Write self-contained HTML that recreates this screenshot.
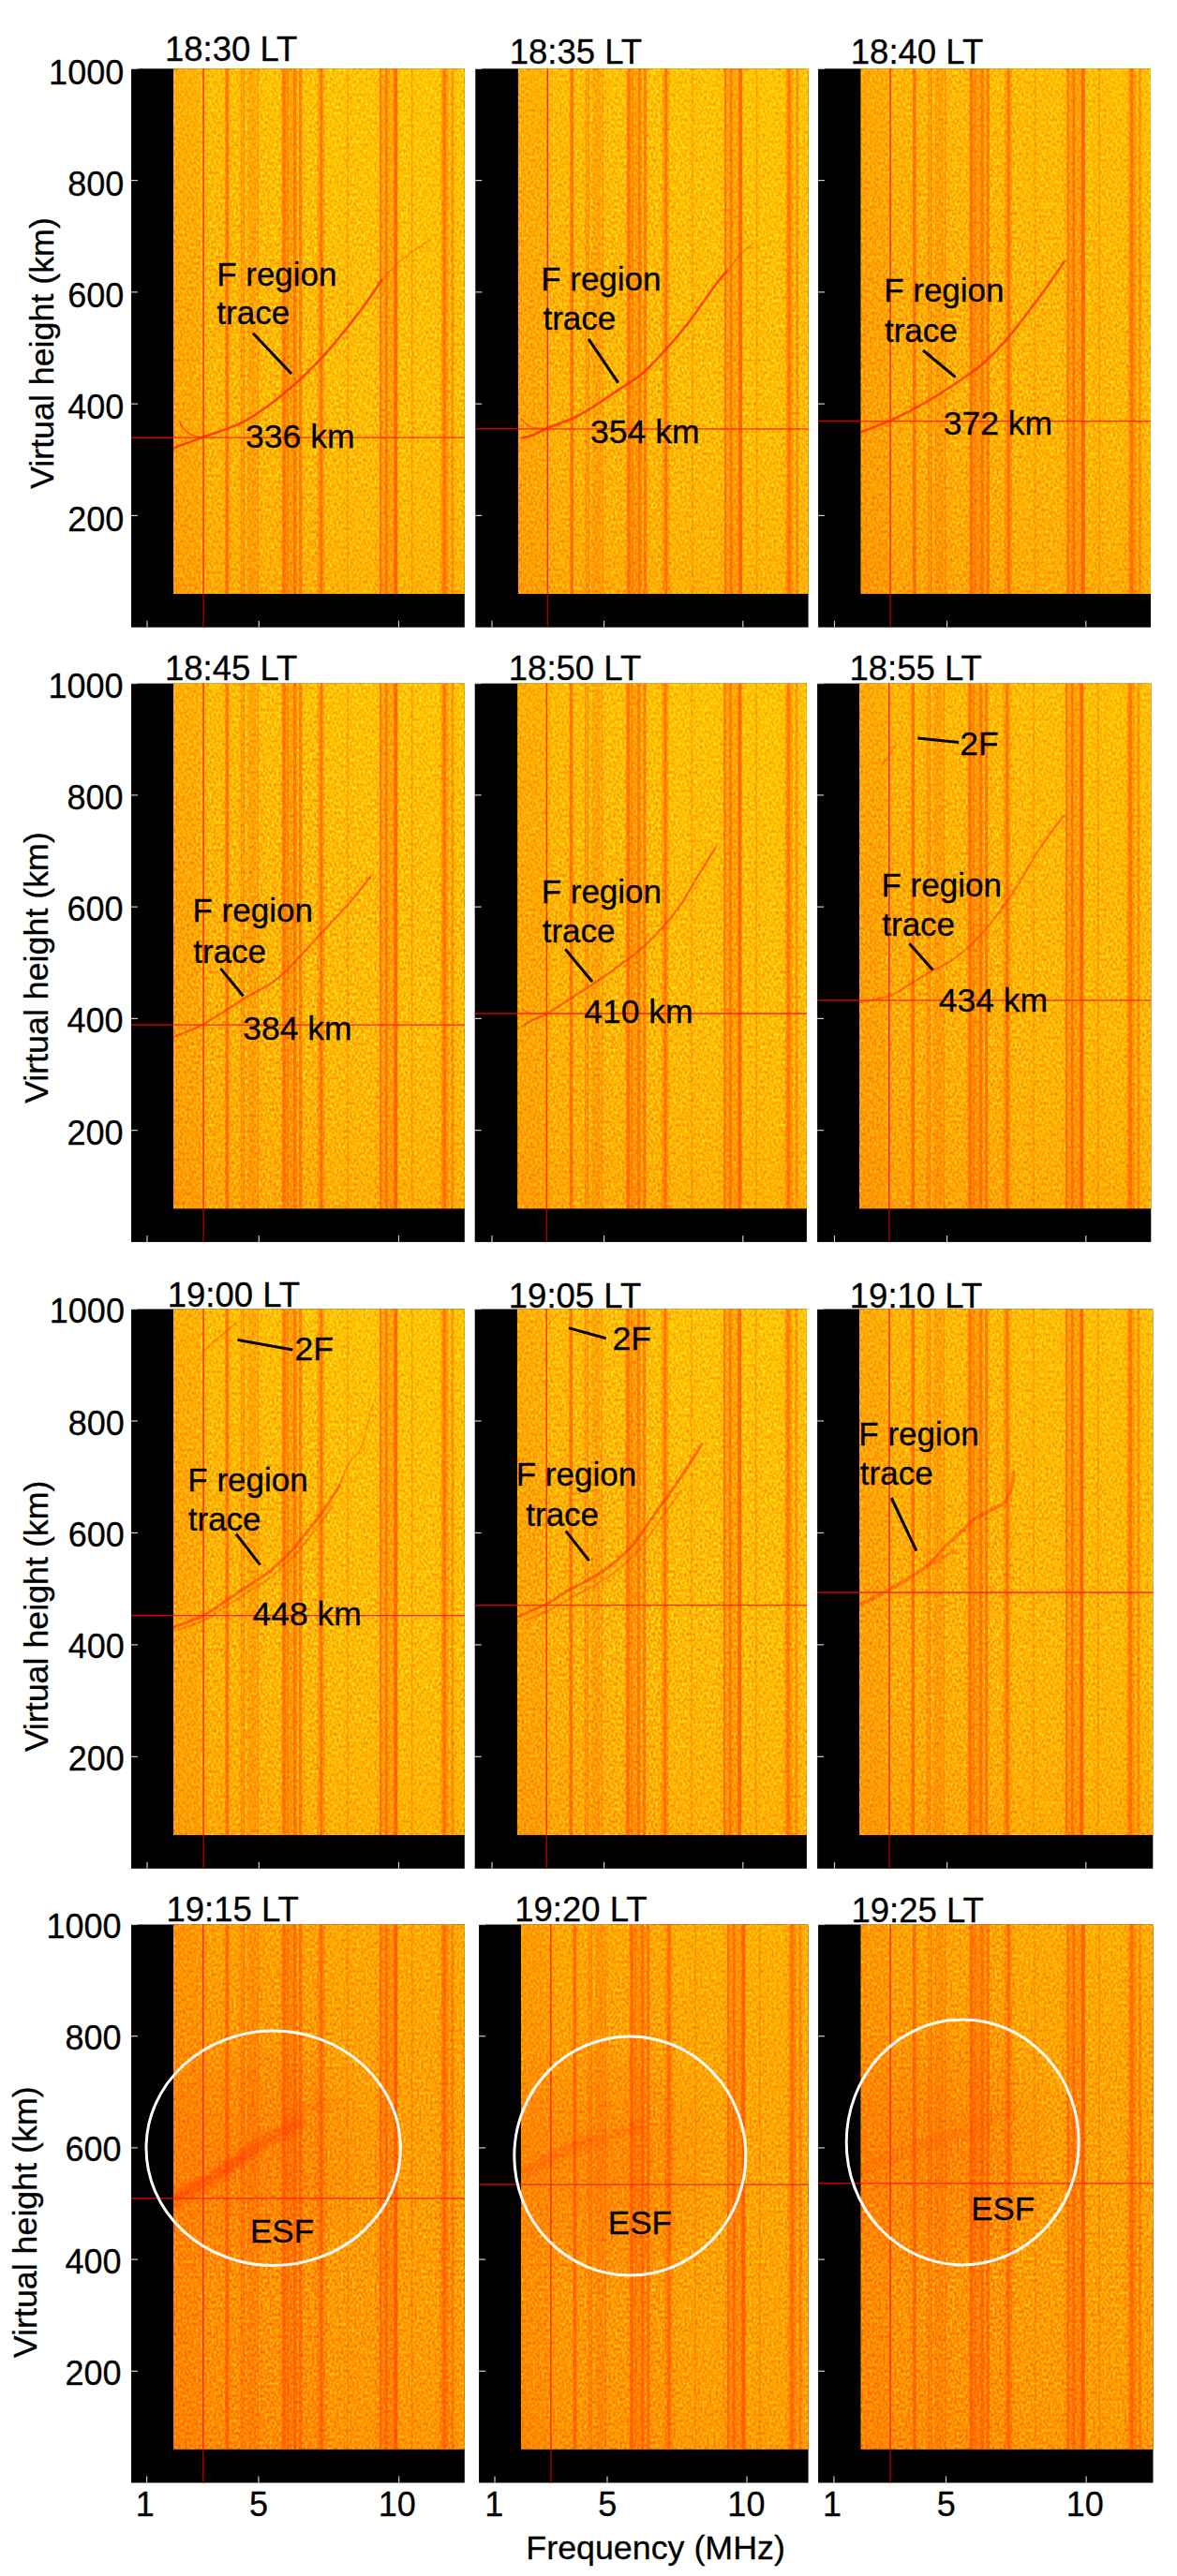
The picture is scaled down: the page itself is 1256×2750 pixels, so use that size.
<!DOCTYPE html><html><head><meta charset="utf-8"><style>html,body{margin:0;padding:0;background:#fff;}svg{display:block;}text{font-family:'Liberation Sans',sans-serif;fill:#000;stroke:#000;stroke-width:0.3px;}</style></head><body>
<svg width="1256" height="2750" viewBox="0 0 1256 2750">
<defs>
<filter id="nz" x="0" y="0" width="1" height="1" color-interpolation-filters="sRGB">
<feTurbulence type="fractalNoise" baseFrequency="0.42 0.3" numOctaves="1" seed="7"/>
<feColorMatrix type="matrix" values="0 0 0 0 1  0.9 0 0 0 0.27  0 0 0 0 0.03  0 0 0 0 1"/>
</filter>
<filter id="nz4" x="0" y="0" width="1" height="1" color-interpolation-filters="sRGB">
<feTurbulence type="fractalNoise" baseFrequency="0.42 0.3" numOctaves="1" seed="11"/>
<feColorMatrix type="matrix" values="0 0 0 0 1  0.9 0 0 0 0.13  0 0 0 0 0.02  0 0 0 0 1"/>
</filter>
<linearGradient id="lr" x1="0" y1="0" x2="1" y2="0">
<stop offset="0" stop-color="#ff7000" stop-opacity="0.16"/><stop offset="0.45" stop-color="#ff9000" stop-opacity="0.0"/>
<stop offset="0.75" stop-color="#ffd000" stop-opacity="0.06"/><stop offset="1" stop-color="#ffd000" stop-opacity="0.10"/></linearGradient>
<linearGradient id="tb" x1="0" y1="0" x2="0" y2="1">
<stop offset="0" stop-color="#ffe000" stop-opacity="0.22"/><stop offset="0.3" stop-color="#ffd000" stop-opacity="0.08"/>
<stop offset="0.6" stop-color="#ff9000" stop-opacity="0.0"/><stop offset="1" stop-color="#ff7000" stop-opacity="0.20"/></linearGradient>
<radialGradient id="esf" cx="0.5" cy="0.5" r="0.5"><stop offset="0" stop-color="#ff4000" stop-opacity="0.22"/><stop offset="0.7" stop-color="#ff5000" stop-opacity="0.12"/><stop offset="1" stop-color="#ff5000" stop-opacity="0"/></radialGradient>
<filter id="bl" x="-20%" y="-20%" width="140%" height="140%"><feGaussianBlur stdDeviation="2.5"/></filter>
</defs>
<rect width="100%" height="100%" fill="#fff"/>
<rect x="140" y="73.3" width="355.8" height="596.4" fill="#000"/>
<clipPath id="cp00"><rect x="185" y="73.3" width="310.8" height="560.7"/></clipPath>
<g clip-path="url(#cp00)">
<rect x="185" y="73.3" width="310.8" height="560.7" fill="#ffaa00" filter="url(#nz)"/>
<rect x="185" y="73.3" width="310.8" height="560.7" fill="url(#lr)"/>
<rect x="185" y="73.3" width="310.8" height="560.7" fill="url(#tb)"/>
<rect x="185" y="73.3" width="310.8" height="560.7" fill="#ffe000" fill-opacity="0.08"/>
<rect x="350" y="73.3" width="50" height="560.7" fill="#ffd400" fill-opacity="0.1"/>
<rect x="425" y="73.3" width="42" height="560.7" fill="#ffd400" fill-opacity="0.1"/>
<rect x="485" y="73.3" width="10.8" height="560.7" fill="#ffd400" fill-opacity="0.08"/>
<rect x="185" y="73.3" width="28" height="560.7" fill="#ff4000" fill-opacity="0.08"/>
<rect x="240.5" y="73.3" width="3.6" height="560.7" fill="#ff4000" fill-opacity="0.55"/>
<rect x="256.8" y="73.3" width="1.8" height="560.7" fill="#ff4000" fill-opacity="0.3"/>
<rect x="259.5" y="73.3" width="1.3" height="560.7" fill="#ff4000" fill-opacity="0.45"/>
<rect x="264.5" y="73.3" width="8.9" height="560.7" fill="#ff4000" fill-opacity="0.18"/>
<rect x="274.5" y="73.3" width="1.5" height="560.7" fill="#ff4000" fill-opacity="0.3"/>
<rect x="300.5" y="73.3" width="17" height="560.7" fill="#ff4000" fill-opacity="0.22"/>
<rect x="301.5" y="73.3" width="3.3" height="560.7" fill="#ff4000" fill-opacity="0.45"/>
<rect x="306" y="73.3" width="2" height="560.7" fill="#ff4000" fill-opacity="0.25"/>
<rect x="313" y="73.3" width="3" height="560.7" fill="#ff4000" fill-opacity="0.4"/>
<rect x="319" y="73.3" width="3.3" height="560.7" fill="#ff4000" fill-opacity="0.5"/>
<rect x="338.7" y="73.3" width="7.5" height="560.7" fill="#ff4000" fill-opacity="0.22"/>
<rect x="341.4" y="73.3" width="2.8" height="560.7" fill="#ff4000" fill-opacity="0.45"/>
<rect x="370" y="73.3" width="2" height="560.7" fill="#ff4000" fill-opacity="0.2"/>
<rect x="405" y="73.3" width="19" height="560.7" fill="#ff4000" fill-opacity="0.2"/>
<rect x="405" y="73.3" width="2.2" height="560.7" fill="#ff4000" fill-opacity="0.45"/>
<rect x="411" y="73.3" width="2.6" height="560.7" fill="#ff4000" fill-opacity="0.45"/>
<rect x="420.4" y="73.3" width="3.8" height="560.7" fill="#ff4000" fill-opacity="0.6"/>
<rect x="439" y="73.3" width="1.5" height="560.7" fill="#ff4000" fill-opacity="0.3"/>
<rect x="470.6" y="73.3" width="8.1" height="560.7" fill="#ff4000" fill-opacity="0.25"/>
<rect x="472.5" y="73.3" width="3.3" height="560.7" fill="#ff4000" fill-opacity="0.4"/>
<rect x="481.5" y="73.3" width="2.7" height="560.7" fill="#ff4000" fill-opacity="0.35"/>
<path d="M185.4,478.3 C190.67,476.33 204.4,471.28 217,466.5 C229.6,461.72 246.15,457.78 261,449.6 C275.85,441.42 291.95,429.13 306.1,417.4 C320.25,405.67 332.65,393.73 345.9,379.2 C359.15,364.67 375.42,343.47 385.6,330.2 C395.78,316.93 403.43,304.7 407,299.6" fill="none" stroke="#ff2800" stroke-width="2.6" stroke-opacity="0.8" stroke-linecap="round"/>
<path d="M407,299.6 C409.55,296.8 417.2,287.63 422.3,282.8 C427.4,277.97 431.48,275.07 437.6,270.6 C443.72,266.13 455.43,258.43 459,256" fill="none" stroke="#ff2800" stroke-width="1.8" stroke-opacity="0.35" stroke-linecap="round"/>
<path d="M191.4,449.6 C192.17,451 193.73,455.52 196,458 C198.27,460.48 201.5,463 205,464.5 C208.5,466 215,466.58 217,467" fill="none" stroke="#ff2800" stroke-width="1.8" stroke-opacity="0.6" stroke-linecap="round"/>
</g>
<line x1="217.1" y1="73.3" x2="217.1" y2="634" stroke="#ff2a00" stroke-width="1.5"/>
<line x1="217.1" y1="634" x2="217.1" y2="669.7" stroke="#a00000" stroke-width="1.5"/>
<line x1="140" y1="467.2" x2="185" y2="467.2" stroke="#c80000" stroke-width="1.5"/>
<line x1="185" y1="467.2" x2="495.8" y2="467.2" stroke="#ff2200" stroke-width="1.3"/>
<line x1="140" y1="73.3" x2="147" y2="73.3" stroke="#ccc" stroke-width="1.2"/>
<line x1="140" y1="192.58" x2="147" y2="192.58" stroke="#ccc" stroke-width="1.2"/>
<line x1="140" y1="311.86" x2="147" y2="311.86" stroke="#ccc" stroke-width="1.2"/>
<line x1="140" y1="431.14" x2="147" y2="431.14" stroke="#ccc" stroke-width="1.2"/>
<line x1="140" y1="550.42" x2="147" y2="550.42" stroke="#ccc" stroke-width="1.2"/>
<line x1="157" y1="669.7" x2="157" y2="662.7" stroke="#ccc" stroke-width="1.2"/>
<line x1="276.3" y1="669.7" x2="276.3" y2="662.7" stroke="#ccc" stroke-width="1.2"/>
<line x1="425.5" y1="669.7" x2="425.5" y2="662.7" stroke="#ccc" stroke-width="1.2"/>
<line x1="270" y1="355.8" x2="311" y2="399" stroke="#000" stroke-width="3"/>
<text x="231.13" y="304.9" font-size="35">F region</text>
<text x="231.37" y="346.2" font-size="35">trace</text>
<text x="262.05" y="478.1" font-size="35.5">336 km</text>
<rect x="507.3" y="73.3" width="355.3" height="596.4" fill="#000"/>
<clipPath id="cp01"><rect x="552.9" y="73.3" width="309.7" height="560.7"/></clipPath>
<g clip-path="url(#cp01)">
<rect x="552.9" y="73.3" width="309.7" height="560.7" fill="#ffaa00" filter="url(#nz)"/>
<rect x="552.9" y="73.3" width="309.7" height="560.7" fill="url(#lr)"/>
<rect x="552.9" y="73.3" width="309.7" height="560.7" fill="url(#tb)"/>
<rect x="552.9" y="73.3" width="309.7" height="560.7" fill="#ffe000" fill-opacity="0.06"/>
<rect x="717.9" y="73.3" width="50" height="560.7" fill="#ffd400" fill-opacity="0.1"/>
<rect x="792.9" y="73.3" width="42" height="560.7" fill="#ffd400" fill-opacity="0.1"/>
<rect x="852.9" y="73.3" width="9.7" height="560.7" fill="#ffd400" fill-opacity="0.08"/>
<rect x="552.9" y="73.3" width="28" height="560.7" fill="#ff4000" fill-opacity="0.08"/>
<rect x="608.4" y="73.3" width="3.6" height="560.7" fill="#ff4000" fill-opacity="0.55"/>
<rect x="624.7" y="73.3" width="1.8" height="560.7" fill="#ff4000" fill-opacity="0.3"/>
<rect x="627.4" y="73.3" width="1.3" height="560.7" fill="#ff4000" fill-opacity="0.45"/>
<rect x="632.4" y="73.3" width="8.9" height="560.7" fill="#ff4000" fill-opacity="0.18"/>
<rect x="642.4" y="73.3" width="1.5" height="560.7" fill="#ff4000" fill-opacity="0.3"/>
<rect x="668.4" y="73.3" width="17" height="560.7" fill="#ff4000" fill-opacity="0.22"/>
<rect x="669.4" y="73.3" width="3.3" height="560.7" fill="#ff4000" fill-opacity="0.45"/>
<rect x="673.9" y="73.3" width="2" height="560.7" fill="#ff4000" fill-opacity="0.25"/>
<rect x="680.9" y="73.3" width="3" height="560.7" fill="#ff4000" fill-opacity="0.4"/>
<rect x="686.9" y="73.3" width="3.3" height="560.7" fill="#ff4000" fill-opacity="0.5"/>
<rect x="706.6" y="73.3" width="7.5" height="560.7" fill="#ff4000" fill-opacity="0.22"/>
<rect x="709.3" y="73.3" width="2.8" height="560.7" fill="#ff4000" fill-opacity="0.45"/>
<rect x="737.9" y="73.3" width="2" height="560.7" fill="#ff4000" fill-opacity="0.2"/>
<rect x="772.9" y="73.3" width="19" height="560.7" fill="#ff4000" fill-opacity="0.2"/>
<rect x="772.9" y="73.3" width="2.2" height="560.7" fill="#ff4000" fill-opacity="0.45"/>
<rect x="778.9" y="73.3" width="2.6" height="560.7" fill="#ff4000" fill-opacity="0.45"/>
<rect x="788.3" y="73.3" width="3.8" height="560.7" fill="#ff4000" fill-opacity="0.6"/>
<rect x="806.9" y="73.3" width="1.5" height="560.7" fill="#ff4000" fill-opacity="0.3"/>
<rect x="838.5" y="73.3" width="8.1" height="560.7" fill="#ff4000" fill-opacity="0.25"/>
<rect x="840.4" y="73.3" width="3.3" height="560.7" fill="#ff4000" fill-opacity="0.4"/>
<rect x="849.4" y="73.3" width="2.7" height="560.7" fill="#ff4000" fill-opacity="0.35"/>
<path d="M557,467.7 C559.17,467.08 565.5,465.78 570,464 C574.5,462.22 575.93,460.5 584,457 C592.07,453.5 605.73,449.8 618.4,443 C631.07,436.2 648.53,423.83 660,416.2 C671.47,408.57 678.13,405.12 687.2,397.2 C696.27,389.28 706.47,377.53 714.4,368.7 C722.33,359.87 728.47,352.37 734.8,344.2 C741.13,336.03 747.2,326.95 752.4,319.7 C757.6,312.45 762.13,305.68 766,300.7 C769.87,295.72 774,291.62 775.6,289.8" fill="none" stroke="#ff2800" stroke-width="2.6" stroke-opacity="0.8" stroke-linecap="round"/>
<path d="M775.6,289.8 C778,286.83 785.43,276.97 790,272 C794.57,267.03 800.83,262 803,260" fill="none" stroke="#ff2800" stroke-width="1.8" stroke-opacity="0.35" stroke-linecap="round"/>
<path d="M557,448 C558,449 560.5,452.5 563,454 C565.5,455.5 568.5,456.42 572,457 C575.5,457.58 582,457.42 584,457.5" fill="none" stroke="#ff2800" stroke-width="1.8" stroke-opacity="0.5" stroke-linecap="round"/>
</g>
<line x1="584.3" y1="73.3" x2="584.3" y2="634" stroke="#ff2a00" stroke-width="1.5"/>
<line x1="584.3" y1="634" x2="584.3" y2="669.7" stroke="#a00000" stroke-width="1.5"/>
<line x1="507.3" y1="457.8" x2="552.9" y2="457.8" stroke="#c80000" stroke-width="1.5"/>
<line x1="552.9" y1="457.8" x2="862.6" y2="457.8" stroke="#ff2200" stroke-width="1.3"/>
<line x1="507.3" y1="73.3" x2="514.3" y2="73.3" stroke="#ccc" stroke-width="1.2"/>
<line x1="507.3" y1="192.58" x2="514.3" y2="192.58" stroke="#ccc" stroke-width="1.2"/>
<line x1="507.3" y1="311.86" x2="514.3" y2="311.86" stroke="#ccc" stroke-width="1.2"/>
<line x1="507.3" y1="431.14" x2="514.3" y2="431.14" stroke="#ccc" stroke-width="1.2"/>
<line x1="507.3" y1="550.42" x2="514.3" y2="550.42" stroke="#ccc" stroke-width="1.2"/>
<line x1="525" y1="669.7" x2="525" y2="662.7" stroke="#ccc" stroke-width="1.2"/>
<line x1="644.6" y1="669.7" x2="644.6" y2="662.7" stroke="#ccc" stroke-width="1.2"/>
<line x1="792.8" y1="669.7" x2="792.8" y2="662.7" stroke="#ccc" stroke-width="1.2"/>
<line x1="628" y1="361.9" x2="659.7" y2="408.7" stroke="#000" stroke-width="3"/>
<text x="577.13" y="310" font-size="35">F region</text>
<text x="579.47" y="351.9" font-size="35">trace</text>
<text x="630.05" y="472.9" font-size="35.5">354 km</text>
<rect x="873.1" y="73.3" width="354.9" height="596.4" fill="#000"/>
<clipPath id="cp02"><rect x="918.5" y="73.3" width="309.5" height="560.7"/></clipPath>
<g clip-path="url(#cp02)">
<rect x="918.5" y="73.3" width="309.5" height="560.7" fill="#ffaa00" filter="url(#nz)"/>
<rect x="918.5" y="73.3" width="309.5" height="560.7" fill="url(#lr)"/>
<rect x="918.5" y="73.3" width="309.5" height="560.7" fill="url(#tb)"/>
<rect x="918.5" y="73.3" width="309.5" height="560.7" fill="#ff8000" fill-opacity="0.08"/>
<rect x="1083.5" y="73.3" width="50" height="560.7" fill="#ffd400" fill-opacity="0.1"/>
<rect x="1158.5" y="73.3" width="42" height="560.7" fill="#ffd400" fill-opacity="0.1"/>
<rect x="1218.5" y="73.3" width="9.5" height="560.7" fill="#ffd400" fill-opacity="0.08"/>
<rect x="918.5" y="73.3" width="28" height="560.7" fill="#ff4000" fill-opacity="0.08"/>
<rect x="974" y="73.3" width="3.6" height="560.7" fill="#ff4000" fill-opacity="0.55"/>
<rect x="990.3" y="73.3" width="1.8" height="560.7" fill="#ff4000" fill-opacity="0.3"/>
<rect x="993" y="73.3" width="1.3" height="560.7" fill="#ff4000" fill-opacity="0.45"/>
<rect x="998" y="73.3" width="8.9" height="560.7" fill="#ff4000" fill-opacity="0.18"/>
<rect x="1008" y="73.3" width="1.5" height="560.7" fill="#ff4000" fill-opacity="0.3"/>
<rect x="1034" y="73.3" width="17" height="560.7" fill="#ff4000" fill-opacity="0.22"/>
<rect x="1035" y="73.3" width="3.3" height="560.7" fill="#ff4000" fill-opacity="0.45"/>
<rect x="1039.5" y="73.3" width="2" height="560.7" fill="#ff4000" fill-opacity="0.25"/>
<rect x="1046.5" y="73.3" width="3" height="560.7" fill="#ff4000" fill-opacity="0.4"/>
<rect x="1052.5" y="73.3" width="3.3" height="560.7" fill="#ff4000" fill-opacity="0.5"/>
<rect x="1072.2" y="73.3" width="7.5" height="560.7" fill="#ff4000" fill-opacity="0.22"/>
<rect x="1074.9" y="73.3" width="2.8" height="560.7" fill="#ff4000" fill-opacity="0.45"/>
<rect x="1103.5" y="73.3" width="2" height="560.7" fill="#ff4000" fill-opacity="0.2"/>
<rect x="1138.5" y="73.3" width="19" height="560.7" fill="#ff4000" fill-opacity="0.2"/>
<rect x="1138.5" y="73.3" width="2.2" height="560.7" fill="#ff4000" fill-opacity="0.45"/>
<rect x="1144.5" y="73.3" width="2.6" height="560.7" fill="#ff4000" fill-opacity="0.45"/>
<rect x="1153.9" y="73.3" width="3.8" height="560.7" fill="#ff4000" fill-opacity="0.6"/>
<rect x="1172.5" y="73.3" width="1.5" height="560.7" fill="#ff4000" fill-opacity="0.3"/>
<rect x="1204.1" y="73.3" width="8.1" height="560.7" fill="#ff4000" fill-opacity="0.25"/>
<rect x="1206" y="73.3" width="3.3" height="560.7" fill="#ff4000" fill-opacity="0.4"/>
<rect x="1215" y="73.3" width="2.7" height="560.7" fill="#ff4000" fill-opacity="0.35"/>
<path d="M918.4,461 C923.67,459 937.9,454.57 950,449 C962.1,443.43 979,434.47 991,427.6 C1003,420.73 1012.33,414.4 1022,407.8 C1031.67,401.2 1039.83,396.17 1049,388 C1058.17,379.83 1066.83,370.8 1077,358.8 C1087.17,346.8 1100.17,329.3 1110,316 C1119.83,302.7 1131.67,285.17 1136,279" fill="none" stroke="#ff2800" stroke-width="2.6" stroke-opacity="0.75" stroke-linecap="round"/>
</g>
<line x1="950.1" y1="73.3" x2="950.1" y2="634" stroke="#ff2a00" stroke-width="1.5"/>
<line x1="950.1" y1="634" x2="950.1" y2="669.7" stroke="#a00000" stroke-width="1.5"/>
<line x1="873.1" y1="449.6" x2="918.5" y2="449.6" stroke="#c80000" stroke-width="1.5"/>
<line x1="918.5" y1="449.6" x2="1228" y2="449.6" stroke="#ff2200" stroke-width="1.3"/>
<line x1="873.1" y1="73.3" x2="880.1" y2="73.3" stroke="#ccc" stroke-width="1.2"/>
<line x1="873.1" y1="192.58" x2="880.1" y2="192.58" stroke="#ccc" stroke-width="1.2"/>
<line x1="873.1" y1="311.86" x2="880.1" y2="311.86" stroke="#ccc" stroke-width="1.2"/>
<line x1="873.1" y1="431.14" x2="880.1" y2="431.14" stroke="#ccc" stroke-width="1.2"/>
<line x1="873.1" y1="550.42" x2="880.1" y2="550.42" stroke="#ccc" stroke-width="1.2"/>
<line x1="890.5" y1="669.7" x2="890.5" y2="662.7" stroke="#ccc" stroke-width="1.2"/>
<line x1="1010.6" y1="669.7" x2="1010.6" y2="662.7" stroke="#ccc" stroke-width="1.2"/>
<line x1="1158.8" y1="669.7" x2="1158.8" y2="662.7" stroke="#ccc" stroke-width="1.2"/>
<line x1="985" y1="374" x2="1019.7" y2="402.7" stroke="#000" stroke-width="3"/>
<text x="943.13" y="322.4" font-size="35">F region</text>
<text x="943.97" y="365.3" font-size="35">trace</text>
<text x="1006.65" y="463.6" font-size="35.5">372 km</text>
<text x="176.02" y="64.5" font-size="36.5">18:30 LT</text>
<text x="543.72" y="68.3" font-size="36.5">18:35 LT</text>
<text x="907.82" y="68.3" font-size="36.5">18:40 LT</text>
<text x="52.12" y="89.5" font-size="36">1000</text>
<text x="72.14" y="208.78" font-size="36">800</text>
<text x="72.14" y="328.06" font-size="36">600</text>
<text x="72.14" y="447.34" font-size="36">400</text>
<text x="72.14" y="566.62" font-size="36">200</text>
<text transform="translate(56.5,521.96) rotate(-90)" font-size="35.8">Virtual height (km)</text>
<rect x="140" y="729.6" width="355.8" height="596.3" fill="#000"/>
<clipPath id="cp10"><rect x="185" y="729.6" width="310.8" height="560.6"/></clipPath>
<g clip-path="url(#cp10)">
<rect x="185" y="729.6" width="310.8" height="560.6" fill="#ffaa00" filter="url(#nz)"/>
<rect x="185" y="729.6" width="310.8" height="560.6" fill="url(#lr)"/>
<rect x="185" y="729.6" width="310.8" height="560.6" fill="url(#tb)"/>
<rect x="350" y="729.6" width="50" height="560.6" fill="#ffd400" fill-opacity="0.1"/>
<rect x="425" y="729.6" width="42" height="560.6" fill="#ffd400" fill-opacity="0.1"/>
<rect x="485" y="729.6" width="10.8" height="560.6" fill="#ffd400" fill-opacity="0.08"/>
<rect x="185" y="729.6" width="28" height="560.6" fill="#ff4000" fill-opacity="0.08"/>
<rect x="240.5" y="729.6" width="3.6" height="560.6" fill="#ff4000" fill-opacity="0.55"/>
<rect x="256.8" y="729.6" width="1.8" height="560.6" fill="#ff4000" fill-opacity="0.3"/>
<rect x="259.5" y="729.6" width="1.3" height="560.6" fill="#ff4000" fill-opacity="0.45"/>
<rect x="264.5" y="729.6" width="8.9" height="560.6" fill="#ff4000" fill-opacity="0.18"/>
<rect x="274.5" y="729.6" width="1.5" height="560.6" fill="#ff4000" fill-opacity="0.3"/>
<rect x="300.5" y="729.6" width="17" height="560.6" fill="#ff4000" fill-opacity="0.22"/>
<rect x="301.5" y="729.6" width="3.3" height="560.6" fill="#ff4000" fill-opacity="0.45"/>
<rect x="306" y="729.6" width="2" height="560.6" fill="#ff4000" fill-opacity="0.25"/>
<rect x="313" y="729.6" width="3" height="560.6" fill="#ff4000" fill-opacity="0.4"/>
<rect x="319" y="729.6" width="3.3" height="560.6" fill="#ff4000" fill-opacity="0.5"/>
<rect x="338.7" y="729.6" width="7.5" height="560.6" fill="#ff4000" fill-opacity="0.22"/>
<rect x="341.4" y="729.6" width="2.8" height="560.6" fill="#ff4000" fill-opacity="0.45"/>
<rect x="370" y="729.6" width="2" height="560.6" fill="#ff4000" fill-opacity="0.2"/>
<rect x="405" y="729.6" width="19" height="560.6" fill="#ff4000" fill-opacity="0.2"/>
<rect x="405" y="729.6" width="2.2" height="560.6" fill="#ff4000" fill-opacity="0.45"/>
<rect x="411" y="729.6" width="2.6" height="560.6" fill="#ff4000" fill-opacity="0.45"/>
<rect x="420.4" y="729.6" width="3.8" height="560.6" fill="#ff4000" fill-opacity="0.6"/>
<rect x="439" y="729.6" width="1.5" height="560.6" fill="#ff4000" fill-opacity="0.3"/>
<rect x="470.6" y="729.6" width="8.1" height="560.6" fill="#ff4000" fill-opacity="0.25"/>
<rect x="472.5" y="729.6" width="3.3" height="560.6" fill="#ff4000" fill-opacity="0.4"/>
<rect x="481.5" y="729.6" width="2.7" height="560.6" fill="#ff4000" fill-opacity="0.35"/>
<path d="M185.4,1107 C187,1106.33 189.57,1105.33 195,1103 C200.43,1100.67 207.33,1099 218,1093 C228.67,1087 246.5,1074.67 259,1067 C271.5,1059.33 283.28,1054.17 293,1047 C302.72,1039.83 308.13,1033.42 317.3,1024 C326.47,1014.58 338.38,1000.93 348,990.5 C357.62,980.07 367.17,970.48 375,961.4 C382.83,952.32 391.67,940.23 395,936" fill="none" stroke="#ff2800" stroke-width="2.2" stroke-opacity="0.6" stroke-linecap="round"/>
</g>
<line x1="217.1" y1="729.6" x2="217.1" y2="1290.2" stroke="#ff2a00" stroke-width="1.5"/>
<line x1="217.1" y1="1290.2" x2="217.1" y2="1325.9" stroke="#a00000" stroke-width="1.5"/>
<line x1="140" y1="1094.1" x2="185" y2="1094.1" stroke="#c80000" stroke-width="1.5"/>
<line x1="185" y1="1094.1" x2="495.8" y2="1094.1" stroke="#ff2200" stroke-width="1.3"/>
<line x1="140" y1="729.6" x2="147" y2="729.6" stroke="#ccc" stroke-width="1.2"/>
<line x1="140" y1="848.86" x2="147" y2="848.86" stroke="#ccc" stroke-width="1.2"/>
<line x1="140" y1="968.12" x2="147" y2="968.12" stroke="#ccc" stroke-width="1.2"/>
<line x1="140" y1="1087.38" x2="147" y2="1087.38" stroke="#ccc" stroke-width="1.2"/>
<line x1="140" y1="1206.64" x2="147" y2="1206.64" stroke="#ccc" stroke-width="1.2"/>
<line x1="157" y1="1325.9" x2="157" y2="1318.9" stroke="#ccc" stroke-width="1.2"/>
<line x1="276.3" y1="1325.9" x2="276.3" y2="1318.9" stroke="#ccc" stroke-width="1.2"/>
<line x1="425.5" y1="1325.9" x2="425.5" y2="1318.9" stroke="#ccc" stroke-width="1.2"/>
<line x1="235.3" y1="1033.9" x2="259.5" y2="1063.2" stroke="#000" stroke-width="3"/>
<text x="205.53" y="984.3" font-size="35">F region</text>
<text x="206.27" y="1027.5" font-size="35">trace</text>
<text x="259.25" y="1109.9" font-size="35.5">384 km</text>
<rect x="506.7" y="729.6" width="354.2" height="596.3" fill="#000"/>
<clipPath id="cp11"><rect x="552.2" y="729.6" width="308.7" height="560.6"/></clipPath>
<g clip-path="url(#cp11)">
<rect x="552.2" y="729.6" width="308.7" height="560.6" fill="#ffaa00" filter="url(#nz)"/>
<rect x="552.2" y="729.6" width="308.7" height="560.6" fill="url(#lr)"/>
<rect x="552.2" y="729.6" width="308.7" height="560.6" fill="url(#tb)"/>
<rect x="552.2" y="729.6" width="308.7" height="560.6" fill="#ffe000" fill-opacity="0.05"/>
<rect x="717.2" y="729.6" width="50" height="560.6" fill="#ffd400" fill-opacity="0.1"/>
<rect x="792.2" y="729.6" width="42" height="560.6" fill="#ffd400" fill-opacity="0.1"/>
<rect x="852.2" y="729.6" width="8.7" height="560.6" fill="#ffd400" fill-opacity="0.08"/>
<rect x="552.2" y="729.6" width="28" height="560.6" fill="#ff4000" fill-opacity="0.08"/>
<rect x="607.7" y="729.6" width="3.6" height="560.6" fill="#ff4000" fill-opacity="0.55"/>
<rect x="624" y="729.6" width="1.8" height="560.6" fill="#ff4000" fill-opacity="0.3"/>
<rect x="626.7" y="729.6" width="1.3" height="560.6" fill="#ff4000" fill-opacity="0.45"/>
<rect x="631.7" y="729.6" width="8.9" height="560.6" fill="#ff4000" fill-opacity="0.18"/>
<rect x="641.7" y="729.6" width="1.5" height="560.6" fill="#ff4000" fill-opacity="0.3"/>
<rect x="667.7" y="729.6" width="17" height="560.6" fill="#ff4000" fill-opacity="0.22"/>
<rect x="668.7" y="729.6" width="3.3" height="560.6" fill="#ff4000" fill-opacity="0.45"/>
<rect x="673.2" y="729.6" width="2" height="560.6" fill="#ff4000" fill-opacity="0.25"/>
<rect x="680.2" y="729.6" width="3" height="560.6" fill="#ff4000" fill-opacity="0.4"/>
<rect x="686.2" y="729.6" width="3.3" height="560.6" fill="#ff4000" fill-opacity="0.5"/>
<rect x="705.9" y="729.6" width="7.5" height="560.6" fill="#ff4000" fill-opacity="0.22"/>
<rect x="708.6" y="729.6" width="2.8" height="560.6" fill="#ff4000" fill-opacity="0.45"/>
<rect x="737.2" y="729.6" width="2" height="560.6" fill="#ff4000" fill-opacity="0.2"/>
<rect x="772.2" y="729.6" width="19" height="560.6" fill="#ff4000" fill-opacity="0.2"/>
<rect x="772.2" y="729.6" width="2.2" height="560.6" fill="#ff4000" fill-opacity="0.45"/>
<rect x="778.2" y="729.6" width="2.6" height="560.6" fill="#ff4000" fill-opacity="0.45"/>
<rect x="787.6" y="729.6" width="3.8" height="560.6" fill="#ff4000" fill-opacity="0.6"/>
<rect x="806.2" y="729.6" width="1.5" height="560.6" fill="#ff4000" fill-opacity="0.3"/>
<rect x="837.8" y="729.6" width="8.1" height="560.6" fill="#ff4000" fill-opacity="0.25"/>
<rect x="839.7" y="729.6" width="3.3" height="560.6" fill="#ff4000" fill-opacity="0.4"/>
<rect x="848.7" y="729.6" width="2.7" height="560.6" fill="#ff4000" fill-opacity="0.35"/>
<path d="M557,1095.6 C559.17,1094.37 565.53,1090.47 570,1088.2 C574.47,1085.93 573.6,1088.12 583.8,1082 C594,1075.88 618.2,1060.17 631.2,1051.5 C644.2,1042.83 651.62,1037.65 661.8,1030 C671.98,1022.35 682.1,1015.52 692.3,1005.6 C702.5,995.68 715.35,980.43 723,970.5 C730.65,960.57 731.37,957.08 738.2,946 C745.03,934.92 759.7,911 764,904" fill="none" stroke="#ff2800" stroke-width="2.2" stroke-opacity="0.6" stroke-linecap="round"/>
<path d="M557,1077 C558.33,1077.67 560.67,1080.08 565,1081 C569.33,1081.92 580,1082.25 583,1082.5" fill="none" stroke="#ff2800" stroke-width="1.6" stroke-opacity="0.35" stroke-linecap="round"/>
</g>
<line x1="583.4" y1="729.6" x2="583.4" y2="1290.2" stroke="#ff2a00" stroke-width="1.5"/>
<line x1="583.4" y1="1290.2" x2="583.4" y2="1325.9" stroke="#a00000" stroke-width="1.5"/>
<line x1="506.7" y1="1082" x2="552.2" y2="1082" stroke="#c80000" stroke-width="1.5"/>
<line x1="552.2" y1="1082" x2="860.9" y2="1082" stroke="#ff2200" stroke-width="1.3"/>
<line x1="506.7" y1="729.6" x2="513.7" y2="729.6" stroke="#ccc" stroke-width="1.2"/>
<line x1="506.7" y1="848.86" x2="513.7" y2="848.86" stroke="#ccc" stroke-width="1.2"/>
<line x1="506.7" y1="968.12" x2="513.7" y2="968.12" stroke="#ccc" stroke-width="1.2"/>
<line x1="506.7" y1="1087.38" x2="513.7" y2="1087.38" stroke="#ccc" stroke-width="1.2"/>
<line x1="506.7" y1="1206.64" x2="513.7" y2="1206.64" stroke="#ccc" stroke-width="1.2"/>
<line x1="525" y1="1325.9" x2="525" y2="1318.9" stroke="#ccc" stroke-width="1.2"/>
<line x1="644.6" y1="1325.9" x2="644.6" y2="1318.9" stroke="#ccc" stroke-width="1.2"/>
<line x1="792.8" y1="1325.9" x2="792.8" y2="1318.9" stroke="#ccc" stroke-width="1.2"/>
<line x1="603.2" y1="1013.3" x2="632" y2="1048" stroke="#000" stroke-width="3"/>
<text x="577.63" y="963.8" font-size="35">F region</text>
<text x="578.67" y="1005.5" font-size="35">trace</text>
<text x="623.29" y="1091.7" font-size="35.5">410 km</text>
<rect x="872.1" y="729.6" width="356.2" height="596.3" fill="#000"/>
<clipPath id="cp12"><rect x="917" y="729.6" width="311.3" height="560.6"/></clipPath>
<g clip-path="url(#cp12)">
<rect x="917" y="729.6" width="311.3" height="560.6" fill="#ffaa00" filter="url(#nz)"/>
<rect x="917" y="729.6" width="311.3" height="560.6" fill="url(#lr)"/>
<rect x="917" y="729.6" width="311.3" height="560.6" fill="url(#tb)"/>
<rect x="917" y="729.6" width="311.3" height="560.6" fill="#ff8000" fill-opacity="0.08"/>
<rect x="1082" y="729.6" width="50" height="560.6" fill="#ffd400" fill-opacity="0.1"/>
<rect x="1157" y="729.6" width="42" height="560.6" fill="#ffd400" fill-opacity="0.1"/>
<rect x="1217" y="729.6" width="11.3" height="560.6" fill="#ffd400" fill-opacity="0.08"/>
<rect x="917" y="729.6" width="28" height="560.6" fill="#ff4000" fill-opacity="0.08"/>
<rect x="972.5" y="729.6" width="3.6" height="560.6" fill="#ff4000" fill-opacity="0.55"/>
<rect x="988.8" y="729.6" width="1.8" height="560.6" fill="#ff4000" fill-opacity="0.3"/>
<rect x="991.5" y="729.6" width="1.3" height="560.6" fill="#ff4000" fill-opacity="0.45"/>
<rect x="996.5" y="729.6" width="8.9" height="560.6" fill="#ff4000" fill-opacity="0.18"/>
<rect x="1006.5" y="729.6" width="1.5" height="560.6" fill="#ff4000" fill-opacity="0.3"/>
<rect x="1032.5" y="729.6" width="17" height="560.6" fill="#ff4000" fill-opacity="0.22"/>
<rect x="1033.5" y="729.6" width="3.3" height="560.6" fill="#ff4000" fill-opacity="0.45"/>
<rect x="1038" y="729.6" width="2" height="560.6" fill="#ff4000" fill-opacity="0.25"/>
<rect x="1045" y="729.6" width="3" height="560.6" fill="#ff4000" fill-opacity="0.4"/>
<rect x="1051" y="729.6" width="3.3" height="560.6" fill="#ff4000" fill-opacity="0.5"/>
<rect x="1070.7" y="729.6" width="7.5" height="560.6" fill="#ff4000" fill-opacity="0.22"/>
<rect x="1073.4" y="729.6" width="2.8" height="560.6" fill="#ff4000" fill-opacity="0.45"/>
<rect x="1102" y="729.6" width="2" height="560.6" fill="#ff4000" fill-opacity="0.2"/>
<rect x="1137" y="729.6" width="19" height="560.6" fill="#ff4000" fill-opacity="0.2"/>
<rect x="1137" y="729.6" width="2.2" height="560.6" fill="#ff4000" fill-opacity="0.45"/>
<rect x="1143" y="729.6" width="2.6" height="560.6" fill="#ff4000" fill-opacity="0.45"/>
<rect x="1152.4" y="729.6" width="3.8" height="560.6" fill="#ff4000" fill-opacity="0.6"/>
<rect x="1171" y="729.6" width="1.5" height="560.6" fill="#ff4000" fill-opacity="0.3"/>
<rect x="1202.6" y="729.6" width="8.1" height="560.6" fill="#ff4000" fill-opacity="0.25"/>
<rect x="1204.5" y="729.6" width="3.3" height="560.6" fill="#ff4000" fill-opacity="0.4"/>
<rect x="1213.5" y="729.6" width="2.7" height="560.6" fill="#ff4000" fill-opacity="0.35"/>
<path d="M918,1070 C923.32,1068.83 941.53,1065.97 949.9,1063 C958.27,1060.03 961.32,1056.28 968.2,1052.2 C975.08,1048.12 983.55,1042.83 991.2,1038.5 C998.85,1034.17 1006.47,1031.3 1014.1,1026.2 C1021.73,1021.1 1029.35,1015.28 1037,1007.9 C1044.65,1000.52 1052.33,991.58 1060,981.9 C1067.67,972.22 1074.67,962.62 1083,949.8 C1091.33,936.98 1101.33,918.13 1110,905 C1118.67,891.87 1130.83,876.67 1135,871" fill="none" stroke="#ff2800" stroke-width="2.2" stroke-opacity="0.5" stroke-linecap="round"/>
<path d="M941.6,816.7 L956.7,794" fill="none" stroke="#ff2800" stroke-width="1.8" stroke-opacity="0.3" stroke-linecap="round"/>
</g>
<line x1="948.8" y1="729.6" x2="948.8" y2="1290.2" stroke="#ff2a00" stroke-width="1.5"/>
<line x1="948.8" y1="1290.2" x2="948.8" y2="1325.9" stroke="#a00000" stroke-width="1.5"/>
<line x1="872.1" y1="1067.8" x2="917" y2="1067.8" stroke="#c80000" stroke-width="1.5"/>
<line x1="917" y1="1067.8" x2="1228.3" y2="1067.8" stroke="#ff2200" stroke-width="1.3"/>
<line x1="872.1" y1="729.6" x2="879.1" y2="729.6" stroke="#ccc" stroke-width="1.2"/>
<line x1="872.1" y1="848.86" x2="879.1" y2="848.86" stroke="#ccc" stroke-width="1.2"/>
<line x1="872.1" y1="968.12" x2="879.1" y2="968.12" stroke="#ccc" stroke-width="1.2"/>
<line x1="872.1" y1="1087.38" x2="879.1" y2="1087.38" stroke="#ccc" stroke-width="1.2"/>
<line x1="872.1" y1="1206.64" x2="879.1" y2="1206.64" stroke="#ccc" stroke-width="1.2"/>
<line x1="890.5" y1="1325.9" x2="890.5" y2="1318.9" stroke="#ccc" stroke-width="1.2"/>
<line x1="1010.6" y1="1325.9" x2="1010.6" y2="1318.9" stroke="#ccc" stroke-width="1.2"/>
<line x1="1158.8" y1="1325.9" x2="1158.8" y2="1318.9" stroke="#ccc" stroke-width="1.2"/>
<line x1="970.3" y1="1007.3" x2="995.4" y2="1035.4" stroke="#000" stroke-width="3"/>
<line x1="979.4" y1="788" x2="1023.2" y2="792.5" stroke="#000" stroke-width="3"/>
<text x="1024.31" y="805.9" font-size="35.5">2F</text>
<text x="940.53" y="956.5" font-size="35">F region</text>
<text x="941.27" y="999.1" font-size="35">trace</text>
<text x="1001.79" y="1079.5" font-size="35.5">434 km</text>
<text x="176.02" y="726.1" font-size="36.5">18:45 LT</text>
<text x="542.82" y="726.1" font-size="36.5">18:50 LT</text>
<text x="906.42" y="726.1" font-size="36.5">18:55 LT</text>
<text x="51.52" y="744.5" font-size="36">1000</text>
<text x="71.54" y="863.76" font-size="36">800</text>
<text x="71.54" y="983.02" font-size="36">600</text>
<text x="71.54" y="1102.28" font-size="36">400</text>
<text x="71.54" y="1221.54" font-size="36">200</text>
<text transform="translate(51.2,1177.96) rotate(-90)" font-size="35.8">Virtual height (km)</text>
<rect x="140" y="1397.5" width="355.8" height="597.3" fill="#000"/>
<clipPath id="cp20"><rect x="185" y="1397.5" width="310.8" height="561.6"/></clipPath>
<g clip-path="url(#cp20)">
<rect x="185" y="1397.5" width="310.8" height="561.6" fill="#ffaa00" filter="url(#nz)"/>
<rect x="185" y="1397.5" width="310.8" height="561.6" fill="url(#lr)"/>
<rect x="185" y="1397.5" width="310.8" height="561.6" fill="url(#tb)"/>
<rect x="185" y="1397.5" width="310.8" height="561.6" fill="#ffe000" fill-opacity="0.05"/>
<rect x="350" y="1397.5" width="50" height="561.6" fill="#ffd400" fill-opacity="0.1"/>
<rect x="425" y="1397.5" width="42" height="561.6" fill="#ffd400" fill-opacity="0.1"/>
<rect x="485" y="1397.5" width="10.8" height="561.6" fill="#ffd400" fill-opacity="0.08"/>
<rect x="185" y="1397.5" width="28" height="561.6" fill="#ff4000" fill-opacity="0.08"/>
<rect x="240.5" y="1397.5" width="3.6" height="561.6" fill="#ff4000" fill-opacity="0.55"/>
<rect x="256.8" y="1397.5" width="1.8" height="561.6" fill="#ff4000" fill-opacity="0.3"/>
<rect x="259.5" y="1397.5" width="1.3" height="561.6" fill="#ff4000" fill-opacity="0.45"/>
<rect x="264.5" y="1397.5" width="8.9" height="561.6" fill="#ff4000" fill-opacity="0.18"/>
<rect x="274.5" y="1397.5" width="1.5" height="561.6" fill="#ff4000" fill-opacity="0.3"/>
<rect x="300.5" y="1397.5" width="17" height="561.6" fill="#ff4000" fill-opacity="0.22"/>
<rect x="301.5" y="1397.5" width="3.3" height="561.6" fill="#ff4000" fill-opacity="0.45"/>
<rect x="306" y="1397.5" width="2" height="561.6" fill="#ff4000" fill-opacity="0.25"/>
<rect x="313" y="1397.5" width="3" height="561.6" fill="#ff4000" fill-opacity="0.4"/>
<rect x="319" y="1397.5" width="3.3" height="561.6" fill="#ff4000" fill-opacity="0.5"/>
<rect x="338.7" y="1397.5" width="7.5" height="561.6" fill="#ff4000" fill-opacity="0.22"/>
<rect x="341.4" y="1397.5" width="2.8" height="561.6" fill="#ff4000" fill-opacity="0.45"/>
<rect x="370" y="1397.5" width="2" height="561.6" fill="#ff4000" fill-opacity="0.2"/>
<rect x="405" y="1397.5" width="19" height="561.6" fill="#ff4000" fill-opacity="0.2"/>
<rect x="405" y="1397.5" width="2.2" height="561.6" fill="#ff4000" fill-opacity="0.45"/>
<rect x="411" y="1397.5" width="2.6" height="561.6" fill="#ff4000" fill-opacity="0.45"/>
<rect x="420.4" y="1397.5" width="3.8" height="561.6" fill="#ff4000" fill-opacity="0.6"/>
<rect x="439" y="1397.5" width="1.5" height="561.6" fill="#ff4000" fill-opacity="0.3"/>
<rect x="470.6" y="1397.5" width="8.1" height="561.6" fill="#ff4000" fill-opacity="0.25"/>
<rect x="472.5" y="1397.5" width="3.3" height="561.6" fill="#ff4000" fill-opacity="0.4"/>
<rect x="481.5" y="1397.5" width="2.7" height="561.6" fill="#ff4000" fill-opacity="0.35"/>
<path d="M185.4,1737 C190.75,1734.9 207.82,1729.4 217.5,1724.4 C227.18,1719.4 235.93,1712.03 243.5,1707 C251.07,1701.97 255.83,1698.88 262.9,1694.2 C269.97,1689.52 279.52,1683.73 285.9,1678.9 C292.28,1674.07 296.62,1669.53 301.2,1665.2 C305.78,1660.87 309.33,1657.5 313.4,1652.9 C317.47,1648.3 321.52,1642.7 325.6,1637.6 C329.68,1632.5 333.82,1627.65 337.9,1622.3 C341.98,1616.95 346.03,1611.62 350.1,1605.5 C354.17,1599.38 360.27,1588.92 362.3,1585.6" fill="none" stroke="#ff2800" stroke-width="3.0" stroke-opacity="0.55" stroke-linecap="round"/>
<path d="M190,1740 C195.17,1738 211.5,1732.83 221,1728 C230.5,1723.17 239.33,1716 247,1711 C254.67,1706 259.83,1702.67 267,1698 C274.17,1693.33 283.67,1687.83 290,1683 C296.33,1678.17 300.42,1673.33 305,1669 C309.58,1664.67 313.33,1661.67 317.5,1657 C321.67,1652.33 325.92,1646.17 330,1641 C334.08,1635.83 338,1631.33 342,1626 C346,1620.67 352,1611.83 354,1609" fill="none" stroke="#ff2800" stroke-width="2.0" stroke-opacity="0.35" stroke-linecap="round"/>
<path d="M362.3,1585.6 C364.08,1581.53 369.17,1567.82 373,1561.2 C376.83,1554.58 381.22,1556.1 385.3,1545.9 C389.38,1535.7 395.47,1507.65 397.5,1500" fill="none" stroke="#ff2800" stroke-width="2.0" stroke-opacity="0.28" stroke-linecap="round"/>
<path d="M218.6,1440.9 L252,1412" fill="none" stroke="#ff2800" stroke-width="2.0" stroke-opacity="0.35" stroke-linecap="round"/>
</g>
<line x1="217.1" y1="1397.5" x2="217.1" y2="1959.1" stroke="#ff2a00" stroke-width="1.5"/>
<line x1="217.1" y1="1959.1" x2="217.1" y2="1994.8" stroke="#a00000" stroke-width="1.5"/>
<line x1="140" y1="1724.6" x2="185" y2="1724.6" stroke="#c80000" stroke-width="1.5"/>
<line x1="185" y1="1724.6" x2="495.8" y2="1724.6" stroke="#ff2200" stroke-width="1.3"/>
<line x1="140" y1="1397.5" x2="147" y2="1397.5" stroke="#ccc" stroke-width="1.2"/>
<line x1="140" y1="1516.96" x2="147" y2="1516.96" stroke="#ccc" stroke-width="1.2"/>
<line x1="140" y1="1636.42" x2="147" y2="1636.42" stroke="#ccc" stroke-width="1.2"/>
<line x1="140" y1="1755.88" x2="147" y2="1755.88" stroke="#ccc" stroke-width="1.2"/>
<line x1="140" y1="1875.34" x2="147" y2="1875.34" stroke="#ccc" stroke-width="1.2"/>
<line x1="157" y1="1994.8" x2="157" y2="1987.8" stroke="#ccc" stroke-width="1.2"/>
<line x1="276.3" y1="1994.8" x2="276.3" y2="1987.8" stroke="#ccc" stroke-width="1.2"/>
<line x1="425.5" y1="1994.8" x2="425.5" y2="1987.8" stroke="#ccc" stroke-width="1.2"/>
<line x1="252" y1="1637.5" x2="277.6" y2="1670.7" stroke="#000" stroke-width="3"/>
<line x1="253.4" y1="1430.3" x2="312.4" y2="1440.9" stroke="#000" stroke-width="3"/>
<text x="314.61" y="1452.3" font-size="35.5">2F</text>
<text x="200.33" y="1591.7" font-size="35">F region</text>
<text x="200.77" y="1633.8" font-size="35">trace</text>
<text x="269.49" y="1734.6" font-size="35.5">448 km</text>
<rect x="506.7" y="1397.5" width="354.2" height="597.3" fill="#000"/>
<clipPath id="cp21"><rect x="551.9" y="1397.5" width="309" height="561.6"/></clipPath>
<g clip-path="url(#cp21)">
<rect x="551.9" y="1397.5" width="309" height="561.6" fill="#ffaa00" filter="url(#nz)"/>
<rect x="551.9" y="1397.5" width="309" height="561.6" fill="url(#lr)"/>
<rect x="551.9" y="1397.5" width="309" height="561.6" fill="url(#tb)"/>
<rect x="716.9" y="1397.5" width="50" height="561.6" fill="#ffd400" fill-opacity="0.1"/>
<rect x="791.9" y="1397.5" width="42" height="561.6" fill="#ffd400" fill-opacity="0.1"/>
<rect x="851.9" y="1397.5" width="9" height="561.6" fill="#ffd400" fill-opacity="0.08"/>
<rect x="551.9" y="1397.5" width="28" height="561.6" fill="#ff4000" fill-opacity="0.08"/>
<rect x="607.4" y="1397.5" width="3.6" height="561.6" fill="#ff4000" fill-opacity="0.55"/>
<rect x="623.7" y="1397.5" width="1.8" height="561.6" fill="#ff4000" fill-opacity="0.3"/>
<rect x="626.4" y="1397.5" width="1.3" height="561.6" fill="#ff4000" fill-opacity="0.45"/>
<rect x="631.4" y="1397.5" width="8.9" height="561.6" fill="#ff4000" fill-opacity="0.18"/>
<rect x="641.4" y="1397.5" width="1.5" height="561.6" fill="#ff4000" fill-opacity="0.3"/>
<rect x="667.4" y="1397.5" width="17" height="561.6" fill="#ff4000" fill-opacity="0.22"/>
<rect x="668.4" y="1397.5" width="3.3" height="561.6" fill="#ff4000" fill-opacity="0.45"/>
<rect x="672.9" y="1397.5" width="2" height="561.6" fill="#ff4000" fill-opacity="0.25"/>
<rect x="679.9" y="1397.5" width="3" height="561.6" fill="#ff4000" fill-opacity="0.4"/>
<rect x="685.9" y="1397.5" width="3.3" height="561.6" fill="#ff4000" fill-opacity="0.5"/>
<rect x="705.6" y="1397.5" width="7.5" height="561.6" fill="#ff4000" fill-opacity="0.22"/>
<rect x="708.3" y="1397.5" width="2.8" height="561.6" fill="#ff4000" fill-opacity="0.45"/>
<rect x="736.9" y="1397.5" width="2" height="561.6" fill="#ff4000" fill-opacity="0.2"/>
<rect x="771.9" y="1397.5" width="19" height="561.6" fill="#ff4000" fill-opacity="0.2"/>
<rect x="771.9" y="1397.5" width="2.2" height="561.6" fill="#ff4000" fill-opacity="0.45"/>
<rect x="777.9" y="1397.5" width="2.6" height="561.6" fill="#ff4000" fill-opacity="0.45"/>
<rect x="787.3" y="1397.5" width="3.8" height="561.6" fill="#ff4000" fill-opacity="0.6"/>
<rect x="805.9" y="1397.5" width="1.5" height="561.6" fill="#ff4000" fill-opacity="0.3"/>
<rect x="837.5" y="1397.5" width="8.1" height="561.6" fill="#ff4000" fill-opacity="0.25"/>
<rect x="839.4" y="1397.5" width="3.3" height="561.6" fill="#ff4000" fill-opacity="0.4"/>
<rect x="848.4" y="1397.5" width="2.7" height="561.6" fill="#ff4000" fill-opacity="0.35"/>
<path d="M552.4,1726 C557.55,1723.68 574.33,1716.77 583.3,1712.1 C592.27,1707.43 598.55,1702.35 606.2,1698 C613.85,1693.65 621.55,1690.5 629.2,1686 C636.85,1681.5 644.47,1677.1 652.1,1671 C659.73,1664.9 667.35,1658.35 675,1649.4 C682.65,1640.45 690.35,1628 698,1617.3 C705.65,1606.6 712.4,1597.75 720.9,1585.2 C729.4,1572.65 744.32,1549.2 749,1542" fill="none" stroke="#ff2800" stroke-width="3.0" stroke-opacity="0.55" stroke-linecap="round"/>
<path d="M560,1730 C565,1727.83 581.33,1721.33 590,1717 C598.67,1712.67 604.5,1708.17 612,1704 C619.5,1699.83 627.33,1696.5 635,1692 C642.67,1687.5 650.33,1683.17 658,1677 C665.67,1670.83 673.33,1664 681,1655 C688.67,1646 696.33,1633.67 704,1623 C711.67,1612.33 723.17,1596.33 727,1591" fill="none" stroke="#ff2800" stroke-width="2.0" stroke-opacity="0.35" stroke-linecap="round"/>
<path d="M585,1414 L598,1400" fill="none" stroke="#ff2800" stroke-width="1.6" stroke-opacity="0.2" stroke-linecap="round"/>
</g>
<line x1="583.2" y1="1397.5" x2="583.2" y2="1959.1" stroke="#ff2a00" stroke-width="1.5"/>
<line x1="583.2" y1="1959.1" x2="583.2" y2="1994.8" stroke="#a00000" stroke-width="1.5"/>
<line x1="506.7" y1="1713.7" x2="551.9" y2="1713.7" stroke="#c80000" stroke-width="1.5"/>
<line x1="551.9" y1="1713.7" x2="860.9" y2="1713.7" stroke="#ff2200" stroke-width="1.3"/>
<line x1="506.7" y1="1397.5" x2="513.7" y2="1397.5" stroke="#ccc" stroke-width="1.2"/>
<line x1="506.7" y1="1516.96" x2="513.7" y2="1516.96" stroke="#ccc" stroke-width="1.2"/>
<line x1="506.7" y1="1636.42" x2="513.7" y2="1636.42" stroke="#ccc" stroke-width="1.2"/>
<line x1="506.7" y1="1755.88" x2="513.7" y2="1755.88" stroke="#ccc" stroke-width="1.2"/>
<line x1="506.7" y1="1875.34" x2="513.7" y2="1875.34" stroke="#ccc" stroke-width="1.2"/>
<line x1="525" y1="1994.8" x2="525" y2="1987.8" stroke="#ccc" stroke-width="1.2"/>
<line x1="644.6" y1="1994.8" x2="644.6" y2="1987.8" stroke="#ccc" stroke-width="1.2"/>
<line x1="792.8" y1="1994.8" x2="792.8" y2="1987.8" stroke="#ccc" stroke-width="1.2"/>
<line x1="603.8" y1="1634.4" x2="628.6" y2="1666.2" stroke="#000" stroke-width="3"/>
<line x1="606.8" y1="1417.6" x2="646.7" y2="1428.8" stroke="#000" stroke-width="3"/>
<text x="653.61" y="1441.2" font-size="35.5">2F</text>
<text x="550.73" y="1586.4" font-size="35">F region</text>
<text x="561.27" y="1629.4" font-size="35">trace</text>
<rect x="872.1" y="1397.5" width="358.2" height="597.3" fill="#000"/>
<clipPath id="cp22"><rect x="917" y="1397.5" width="313.3" height="561.6"/></clipPath>
<g clip-path="url(#cp22)">
<rect x="917" y="1397.5" width="313.3" height="561.6" fill="#ffaa00" filter="url(#nz)"/>
<rect x="917" y="1397.5" width="313.3" height="561.6" fill="url(#lr)"/>
<rect x="917" y="1397.5" width="313.3" height="561.6" fill="url(#tb)"/>
<rect x="917" y="1397.5" width="313.3" height="561.6" fill="#ff8000" fill-opacity="0.08"/>
<rect x="1082" y="1397.5" width="50" height="561.6" fill="#ffd400" fill-opacity="0.1"/>
<rect x="1157" y="1397.5" width="42" height="561.6" fill="#ffd400" fill-opacity="0.1"/>
<rect x="1217" y="1397.5" width="13.3" height="561.6" fill="#ffd400" fill-opacity="0.08"/>
<rect x="917" y="1397.5" width="28" height="561.6" fill="#ff4000" fill-opacity="0.08"/>
<rect x="972.5" y="1397.5" width="3.6" height="561.6" fill="#ff4000" fill-opacity="0.55"/>
<rect x="988.8" y="1397.5" width="1.8" height="561.6" fill="#ff4000" fill-opacity="0.3"/>
<rect x="991.5" y="1397.5" width="1.3" height="561.6" fill="#ff4000" fill-opacity="0.45"/>
<rect x="996.5" y="1397.5" width="8.9" height="561.6" fill="#ff4000" fill-opacity="0.18"/>
<rect x="1006.5" y="1397.5" width="1.5" height="561.6" fill="#ff4000" fill-opacity="0.3"/>
<rect x="1032.5" y="1397.5" width="17" height="561.6" fill="#ff4000" fill-opacity="0.22"/>
<rect x="1033.5" y="1397.5" width="3.3" height="561.6" fill="#ff4000" fill-opacity="0.45"/>
<rect x="1038" y="1397.5" width="2" height="561.6" fill="#ff4000" fill-opacity="0.25"/>
<rect x="1045" y="1397.5" width="3" height="561.6" fill="#ff4000" fill-opacity="0.4"/>
<rect x="1051" y="1397.5" width="3.3" height="561.6" fill="#ff4000" fill-opacity="0.5"/>
<rect x="1070.7" y="1397.5" width="7.5" height="561.6" fill="#ff4000" fill-opacity="0.22"/>
<rect x="1073.4" y="1397.5" width="2.8" height="561.6" fill="#ff4000" fill-opacity="0.45"/>
<rect x="1102" y="1397.5" width="2" height="561.6" fill="#ff4000" fill-opacity="0.2"/>
<rect x="1137" y="1397.5" width="19" height="561.6" fill="#ff4000" fill-opacity="0.2"/>
<rect x="1137" y="1397.5" width="2.2" height="561.6" fill="#ff4000" fill-opacity="0.45"/>
<rect x="1143" y="1397.5" width="2.6" height="561.6" fill="#ff4000" fill-opacity="0.45"/>
<rect x="1152.4" y="1397.5" width="3.8" height="561.6" fill="#ff4000" fill-opacity="0.6"/>
<rect x="1171" y="1397.5" width="1.5" height="561.6" fill="#ff4000" fill-opacity="0.3"/>
<rect x="1202.6" y="1397.5" width="8.1" height="561.6" fill="#ff4000" fill-opacity="0.25"/>
<rect x="1204.5" y="1397.5" width="3.3" height="561.6" fill="#ff4000" fill-opacity="0.4"/>
<rect x="1213.5" y="1397.5" width="2.7" height="561.6" fill="#ff4000" fill-opacity="0.35"/>
<path d="M917.4,1713 C922.35,1710.5 938.58,1702.58 947.1,1698 C955.62,1693.42 961.37,1689.95 968.5,1685.5 C975.63,1681.05 982.77,1677.55 989.9,1671.3 C997.03,1665.05 1004.75,1654.55 1011.3,1648 C1017.85,1641.45 1024.43,1636.45 1029.2,1632 C1033.97,1627.55 1035.15,1624.63 1039.9,1621.3 C1044.65,1617.97 1052.35,1614.97 1057.7,1612 C1063.05,1609.03 1068.43,1607.3 1072,1603.5 C1075.57,1599.7 1077.43,1594.45 1079.1,1589.2 C1080.77,1583.95 1081.52,1574.87 1082,1572" fill="none" stroke="#ff2800" stroke-width="4.0" stroke-opacity="0.4" stroke-linecap="round"/>
<path d="M989.9,1671.3 C992.28,1670.1 999.18,1666.82 1004.2,1664.1 C1009.22,1661.38 1017.37,1656.52 1020,1655" fill="none" stroke="#ff2800" stroke-width="3" stroke-opacity="0.3" stroke-linecap="round"/>
</g>
<line x1="949" y1="1397.5" x2="949" y2="1959.1" stroke="#ff2a00" stroke-width="1.5"/>
<line x1="949" y1="1959.1" x2="949" y2="1994.8" stroke="#a00000" stroke-width="1.5"/>
<line x1="872.1" y1="1700" x2="917" y2="1700" stroke="#c80000" stroke-width="1.5"/>
<line x1="917" y1="1700" x2="1230.3" y2="1700" stroke="#ff2200" stroke-width="1.3"/>
<line x1="872.1" y1="1397.5" x2="879.1" y2="1397.5" stroke="#ccc" stroke-width="1.2"/>
<line x1="872.1" y1="1516.96" x2="879.1" y2="1516.96" stroke="#ccc" stroke-width="1.2"/>
<line x1="872.1" y1="1636.42" x2="879.1" y2="1636.42" stroke="#ccc" stroke-width="1.2"/>
<line x1="872.1" y1="1755.88" x2="879.1" y2="1755.88" stroke="#ccc" stroke-width="1.2"/>
<line x1="872.1" y1="1875.34" x2="879.1" y2="1875.34" stroke="#ccc" stroke-width="1.2"/>
<line x1="890.5" y1="1994.8" x2="890.5" y2="1987.8" stroke="#ccc" stroke-width="1.2"/>
<line x1="1010.6" y1="1994.8" x2="1010.6" y2="1987.8" stroke="#ccc" stroke-width="1.2"/>
<line x1="1158.8" y1="1994.8" x2="1158.8" y2="1987.8" stroke="#ccc" stroke-width="1.2"/>
<line x1="951.2" y1="1599" x2="977.9" y2="1655.6" stroke="#000" stroke-width="3"/>
<text x="916.33" y="1543" font-size="35">F region</text>
<text x="917.87" y="1584.7" font-size="35">trace</text>
<text x="178.72" y="1394.5" font-size="36.5">19:00 LT</text>
<text x="542.82" y="1395.9" font-size="36.5">19:05 LT</text>
<text x="906.82" y="1395.9" font-size="36.5">19:10 LT</text>
<text x="52.82" y="1412.1" font-size="36">1000</text>
<text x="72.84" y="1531.56" font-size="36">800</text>
<text x="72.84" y="1651.02" font-size="36">600</text>
<text x="72.84" y="1770.48" font-size="36">400</text>
<text x="72.84" y="1889.94" font-size="36">200</text>
<text transform="translate(51,1870.36) rotate(-90)" font-size="35.8">Virtual height (km)</text>
<rect x="140" y="2054.5" width="355.8" height="596" fill="#000"/>
<clipPath id="cp30"><rect x="185" y="2054.5" width="310.8" height="560.3"/></clipPath>
<g clip-path="url(#cp30)">
<rect x="185" y="2054.5" width="310.8" height="560.3" fill="#ffaa00" filter="url(#nz4)"/>
<rect x="185" y="2054.5" width="310.8" height="560.3" fill="url(#lr)"/>
<rect x="185" y="2054.5" width="310.8" height="560.3" fill="url(#tb)"/>
<rect x="185" y="2054.5" width="310.8" height="560.3" fill="#ff8000" fill-opacity="0.05"/>
<ellipse cx="261.7" cy="2303.3" rx="149.27" ry="137.72" fill="url(#esf)"/>
<rect x="350" y="2054.5" width="50" height="560.3" fill="#ffd400" fill-opacity="0.1"/>
<rect x="425" y="2054.5" width="42" height="560.3" fill="#ffd400" fill-opacity="0.1"/>
<rect x="485" y="2054.5" width="10.8" height="560.3" fill="#ffd400" fill-opacity="0.08"/>
<rect x="185" y="2054.5" width="28" height="560.3" fill="#ff4000" fill-opacity="0.08"/>
<rect x="240.5" y="2054.5" width="3.6" height="560.3" fill="#ff4000" fill-opacity="0.55"/>
<rect x="256.8" y="2054.5" width="1.8" height="560.3" fill="#ff4000" fill-opacity="0.3"/>
<rect x="259.5" y="2054.5" width="1.3" height="560.3" fill="#ff4000" fill-opacity="0.45"/>
<rect x="264.5" y="2054.5" width="8.9" height="560.3" fill="#ff4000" fill-opacity="0.18"/>
<rect x="274.5" y="2054.5" width="1.5" height="560.3" fill="#ff4000" fill-opacity="0.3"/>
<rect x="300.5" y="2054.5" width="17" height="560.3" fill="#ff4000" fill-opacity="0.22"/>
<rect x="301.5" y="2054.5" width="3.3" height="560.3" fill="#ff4000" fill-opacity="0.45"/>
<rect x="306" y="2054.5" width="2" height="560.3" fill="#ff4000" fill-opacity="0.25"/>
<rect x="313" y="2054.5" width="3" height="560.3" fill="#ff4000" fill-opacity="0.4"/>
<rect x="319" y="2054.5" width="3.3" height="560.3" fill="#ff4000" fill-opacity="0.5"/>
<rect x="338.7" y="2054.5" width="7.5" height="560.3" fill="#ff4000" fill-opacity="0.22"/>
<rect x="341.4" y="2054.5" width="2.8" height="560.3" fill="#ff4000" fill-opacity="0.45"/>
<rect x="370" y="2054.5" width="2" height="560.3" fill="#ff4000" fill-opacity="0.2"/>
<rect x="405" y="2054.5" width="19" height="560.3" fill="#ff4000" fill-opacity="0.2"/>
<rect x="405" y="2054.5" width="2.2" height="560.3" fill="#ff4000" fill-opacity="0.45"/>
<rect x="411" y="2054.5" width="2.6" height="560.3" fill="#ff4000" fill-opacity="0.45"/>
<rect x="420.4" y="2054.5" width="3.8" height="560.3" fill="#ff4000" fill-opacity="0.6"/>
<rect x="439" y="2054.5" width="1.5" height="560.3" fill="#ff4000" fill-opacity="0.3"/>
<rect x="470.6" y="2054.5" width="8.1" height="560.3" fill="#ff4000" fill-opacity="0.25"/>
<rect x="472.5" y="2054.5" width="3.3" height="560.3" fill="#ff4000" fill-opacity="0.4"/>
<rect x="481.5" y="2054.5" width="2.7" height="560.3" fill="#ff4000" fill-opacity="0.35"/>
<path d="M180,2352 C188.33,2347.5 214,2335.33 230,2325 C246,2314.67 261,2299.83 276,2290 C291,2280.17 312.67,2270 320,2266" fill="none" stroke="#ff2000" stroke-width="12" stroke-opacity="0.3" stroke-linecap="round" filter="url(#bl)"/>
<path d="M185,2343 C192.67,2339 218.17,2326.17 231,2319 C243.83,2311.83 256.83,2303.17 262,2300" fill="none" stroke="#ff2000" stroke-width="5" stroke-opacity="0.28" stroke-linecap="round" filter="url(#bl)"/>
<path d="M300,2262 C305,2260 320,2252.83 330,2250 C340,2247.17 355,2245.83 360,2245" fill="none" stroke="#ff2000" stroke-width="6" stroke-opacity="0.12" stroke-linecap="round" filter="url(#bl)"/>
</g>
<line x1="216.8" y1="2054.5" x2="216.8" y2="2614.8" stroke="#ff2a00" stroke-width="1.5"/>
<line x1="216.8" y1="2614.8" x2="216.8" y2="2650.5" stroke="#a00000" stroke-width="1.5"/>
<line x1="140" y1="2346.8" x2="185" y2="2346.8" stroke="#c80000" stroke-width="1.5"/>
<line x1="185" y1="2346.8" x2="495.8" y2="2346.8" stroke="#ff2200" stroke-width="1.3"/>
<line x1="140" y1="2054.5" x2="147" y2="2054.5" stroke="#ccc" stroke-width="1.2"/>
<line x1="140" y1="2173.7" x2="147" y2="2173.7" stroke="#ccc" stroke-width="1.2"/>
<line x1="140" y1="2292.9" x2="147" y2="2292.9" stroke="#ccc" stroke-width="1.2"/>
<line x1="140" y1="2412.1" x2="147" y2="2412.1" stroke="#ccc" stroke-width="1.2"/>
<line x1="140" y1="2531.3" x2="147" y2="2531.3" stroke="#ccc" stroke-width="1.2"/>
<line x1="156.6" y1="2650.5" x2="156.6" y2="2643.5" stroke="#ccc" stroke-width="1.2"/>
<line x1="275.9" y1="2650.5" x2="275.9" y2="2643.5" stroke="#ccc" stroke-width="1.2"/>
<line x1="425.7" y1="2650.5" x2="425.7" y2="2643.5" stroke="#ccc" stroke-width="1.2"/>
<ellipse cx="291.7" cy="2293.3" rx="135.7" ry="125.2" fill="none" stroke="#fff" stroke-width="3"/>
<text x="267.03" y="2394" font-size="35">ESF</text>
<rect x="511.1" y="2054.5" width="351.5" height="596" fill="#000"/>
<clipPath id="cp31"><rect x="556" y="2054.5" width="306.6" height="560.3"/></clipPath>
<g clip-path="url(#cp31)">
<rect x="556" y="2054.5" width="306.6" height="560.3" fill="#ffaa00" filter="url(#nz4)"/>
<rect x="556" y="2054.5" width="306.6" height="560.3" fill="url(#lr)"/>
<rect x="556" y="2054.5" width="306.6" height="560.3" fill="url(#tb)"/>
<rect x="556" y="2054.5" width="306.6" height="560.3" fill="#ffd800" fill-opacity="0.1"/>
<ellipse cx="642.3" cy="2311.5" rx="135.85" ry="140.25" fill="url(#esf)"/>
<rect x="721" y="2054.5" width="50" height="560.3" fill="#ffd400" fill-opacity="0.1"/>
<rect x="796" y="2054.5" width="42" height="560.3" fill="#ffd400" fill-opacity="0.1"/>
<rect x="856" y="2054.5" width="6.6" height="560.3" fill="#ffd400" fill-opacity="0.08"/>
<rect x="556" y="2054.5" width="28" height="560.3" fill="#ff4000" fill-opacity="0.08"/>
<rect x="611.5" y="2054.5" width="3.6" height="560.3" fill="#ff4000" fill-opacity="0.55"/>
<rect x="627.8" y="2054.5" width="1.8" height="560.3" fill="#ff4000" fill-opacity="0.3"/>
<rect x="630.5" y="2054.5" width="1.3" height="560.3" fill="#ff4000" fill-opacity="0.45"/>
<rect x="635.5" y="2054.5" width="8.9" height="560.3" fill="#ff4000" fill-opacity="0.18"/>
<rect x="645.5" y="2054.5" width="1.5" height="560.3" fill="#ff4000" fill-opacity="0.3"/>
<rect x="671.5" y="2054.5" width="17" height="560.3" fill="#ff4000" fill-opacity="0.22"/>
<rect x="672.5" y="2054.5" width="3.3" height="560.3" fill="#ff4000" fill-opacity="0.45"/>
<rect x="677" y="2054.5" width="2" height="560.3" fill="#ff4000" fill-opacity="0.25"/>
<rect x="684" y="2054.5" width="3" height="560.3" fill="#ff4000" fill-opacity="0.4"/>
<rect x="690" y="2054.5" width="3.3" height="560.3" fill="#ff4000" fill-opacity="0.5"/>
<rect x="709.7" y="2054.5" width="7.5" height="560.3" fill="#ff4000" fill-opacity="0.22"/>
<rect x="712.4" y="2054.5" width="2.8" height="560.3" fill="#ff4000" fill-opacity="0.45"/>
<rect x="741" y="2054.5" width="2" height="560.3" fill="#ff4000" fill-opacity="0.2"/>
<rect x="776" y="2054.5" width="19" height="560.3" fill="#ff4000" fill-opacity="0.2"/>
<rect x="776" y="2054.5" width="2.2" height="560.3" fill="#ff4000" fill-opacity="0.45"/>
<rect x="782" y="2054.5" width="2.6" height="560.3" fill="#ff4000" fill-opacity="0.45"/>
<rect x="791.4" y="2054.5" width="3.8" height="560.3" fill="#ff4000" fill-opacity="0.6"/>
<rect x="810" y="2054.5" width="1.5" height="560.3" fill="#ff4000" fill-opacity="0.3"/>
<rect x="841.6" y="2054.5" width="8.1" height="560.3" fill="#ff4000" fill-opacity="0.25"/>
<rect x="843.5" y="2054.5" width="3.3" height="560.3" fill="#ff4000" fill-opacity="0.4"/>
<rect x="852.5" y="2054.5" width="2.7" height="560.3" fill="#ff4000" fill-opacity="0.35"/>
<path d="M552,2325 C560,2320.83 585.33,2306.67 600,2300 C614.67,2293.33 626.17,2290.33 640,2285 C653.83,2279.67 675.83,2270.83 683,2268" fill="none" stroke="#ff2000" stroke-width="10" stroke-opacity="0.16" stroke-linecap="round" filter="url(#bl)"/>
<path d="M556,2318 C563.33,2314.17 587.67,2301 600,2295 C612.33,2289 625,2284.17 630,2282" fill="none" stroke="#ff2000" stroke-width="4" stroke-opacity="0.2" stroke-linecap="round" filter="url(#bl)"/>
</g>
<line x1="587.8" y1="2054.5" x2="587.8" y2="2614.8" stroke="#ff2a00" stroke-width="1.5"/>
<line x1="587.8" y1="2614.8" x2="587.8" y2="2650.5" stroke="#a00000" stroke-width="1.5"/>
<line x1="511.1" y1="2332.1" x2="556" y2="2332.1" stroke="#c80000" stroke-width="1.5"/>
<line x1="556" y1="2332.1" x2="862.6" y2="2332.1" stroke="#ff2200" stroke-width="1.3"/>
<line x1="511.1" y1="2054.5" x2="518.1" y2="2054.5" stroke="#ccc" stroke-width="1.2"/>
<line x1="511.1" y1="2173.7" x2="518.1" y2="2173.7" stroke="#ccc" stroke-width="1.2"/>
<line x1="511.1" y1="2292.9" x2="518.1" y2="2292.9" stroke="#ccc" stroke-width="1.2"/>
<line x1="511.1" y1="2412.1" x2="518.1" y2="2412.1" stroke="#ccc" stroke-width="1.2"/>
<line x1="511.1" y1="2531.3" x2="518.1" y2="2531.3" stroke="#ccc" stroke-width="1.2"/>
<line x1="528" y1="2650.5" x2="528" y2="2643.5" stroke="#ccc" stroke-width="1.2"/>
<line x1="648" y1="2650.5" x2="648" y2="2643.5" stroke="#ccc" stroke-width="1.2"/>
<line x1="797" y1="2650.5" x2="797" y2="2643.5" stroke="#ccc" stroke-width="1.2"/>
<ellipse cx="672.3" cy="2301.5" rx="123.5" ry="127.5" fill="none" stroke="#fff" stroke-width="3"/>
<text x="648.83" y="2385" font-size="35">ESF</text>
<rect x="873.1" y="2054.5" width="357.4" height="596" fill="#000"/>
<clipPath id="cp32"><rect x="918.5" y="2054.5" width="312" height="560.3"/></clipPath>
<g clip-path="url(#cp32)">
<rect x="918.5" y="2054.5" width="312" height="560.3" fill="#ffaa00" filter="url(#nz4)"/>
<rect x="918.5" y="2054.5" width="312" height="560.3" fill="url(#lr)"/>
<rect x="918.5" y="2054.5" width="312" height="560.3" fill="url(#tb)"/>
<rect x="918.5" y="2054.5" width="312" height="560.3" fill="#ffd800" fill-opacity="0.03"/>
<ellipse cx="997.2" cy="2296.9" rx="136.4" ry="144.1" fill="url(#esf)"/>
<rect x="1083.5" y="2054.5" width="50" height="560.3" fill="#ffd400" fill-opacity="0.1"/>
<rect x="1158.5" y="2054.5" width="42" height="560.3" fill="#ffd400" fill-opacity="0.1"/>
<rect x="1218.5" y="2054.5" width="12" height="560.3" fill="#ffd400" fill-opacity="0.08"/>
<rect x="918.5" y="2054.5" width="28" height="560.3" fill="#ff4000" fill-opacity="0.08"/>
<rect x="974" y="2054.5" width="3.6" height="560.3" fill="#ff4000" fill-opacity="0.55"/>
<rect x="990.3" y="2054.5" width="1.8" height="560.3" fill="#ff4000" fill-opacity="0.3"/>
<rect x="993" y="2054.5" width="1.3" height="560.3" fill="#ff4000" fill-opacity="0.45"/>
<rect x="998" y="2054.5" width="8.9" height="560.3" fill="#ff4000" fill-opacity="0.18"/>
<rect x="1008" y="2054.5" width="1.5" height="560.3" fill="#ff4000" fill-opacity="0.3"/>
<rect x="1034" y="2054.5" width="17" height="560.3" fill="#ff4000" fill-opacity="0.22"/>
<rect x="1035" y="2054.5" width="3.3" height="560.3" fill="#ff4000" fill-opacity="0.45"/>
<rect x="1039.5" y="2054.5" width="2" height="560.3" fill="#ff4000" fill-opacity="0.25"/>
<rect x="1046.5" y="2054.5" width="3" height="560.3" fill="#ff4000" fill-opacity="0.4"/>
<rect x="1052.5" y="2054.5" width="3.3" height="560.3" fill="#ff4000" fill-opacity="0.5"/>
<rect x="1072.2" y="2054.5" width="7.5" height="560.3" fill="#ff4000" fill-opacity="0.22"/>
<rect x="1074.9" y="2054.5" width="2.8" height="560.3" fill="#ff4000" fill-opacity="0.45"/>
<rect x="1103.5" y="2054.5" width="2" height="560.3" fill="#ff4000" fill-opacity="0.2"/>
<rect x="1138.5" y="2054.5" width="19" height="560.3" fill="#ff4000" fill-opacity="0.2"/>
<rect x="1138.5" y="2054.5" width="2.2" height="560.3" fill="#ff4000" fill-opacity="0.45"/>
<rect x="1144.5" y="2054.5" width="2.6" height="560.3" fill="#ff4000" fill-opacity="0.45"/>
<rect x="1153.9" y="2054.5" width="3.8" height="560.3" fill="#ff4000" fill-opacity="0.6"/>
<rect x="1172.5" y="2054.5" width="1.5" height="560.3" fill="#ff4000" fill-opacity="0.3"/>
<rect x="1204.1" y="2054.5" width="8.1" height="560.3" fill="#ff4000" fill-opacity="0.25"/>
<rect x="1206" y="2054.5" width="3.3" height="560.3" fill="#ff4000" fill-opacity="0.4"/>
<rect x="1215" y="2054.5" width="2.7" height="560.3" fill="#ff4000" fill-opacity="0.35"/>
<path d="M915,2318 C922.5,2315 944.17,2306 960,2300 C975.83,2294 994,2287.33 1010,2282 C1026,2276.67 1048.33,2270.33 1056,2268" fill="none" stroke="#ff2000" stroke-width="10" stroke-opacity="0.14" stroke-linecap="round" filter="url(#bl)"/>
<path d="M1060,2262 L1085,2250" fill="none" stroke="#ff2000" stroke-width="5" stroke-opacity="0.12" stroke-linecap="round" filter="url(#bl)"/>
</g>
<line x1="950" y1="2054.5" x2="950" y2="2614.8" stroke="#ff2a00" stroke-width="1.5"/>
<line x1="950" y1="2614.8" x2="950" y2="2650.5" stroke="#a00000" stroke-width="1.5"/>
<line x1="873.1" y1="2330.8" x2="918.5" y2="2330.8" stroke="#c80000" stroke-width="1.5"/>
<line x1="918.5" y1="2330.8" x2="1230.5" y2="2330.8" stroke="#ff2200" stroke-width="1.3"/>
<line x1="873.1" y1="2054.5" x2="880.1" y2="2054.5" stroke="#ccc" stroke-width="1.2"/>
<line x1="873.1" y1="2173.7" x2="880.1" y2="2173.7" stroke="#ccc" stroke-width="1.2"/>
<line x1="873.1" y1="2292.9" x2="880.1" y2="2292.9" stroke="#ccc" stroke-width="1.2"/>
<line x1="873.1" y1="2412.1" x2="880.1" y2="2412.1" stroke="#ccc" stroke-width="1.2"/>
<line x1="873.1" y1="2531.3" x2="880.1" y2="2531.3" stroke="#ccc" stroke-width="1.2"/>
<line x1="889.9" y1="2650.5" x2="889.9" y2="2643.5" stroke="#ccc" stroke-width="1.2"/>
<line x1="1009.5" y1="2650.5" x2="1009.5" y2="2643.5" stroke="#ccc" stroke-width="1.2"/>
<line x1="1159.1" y1="2650.5" x2="1159.1" y2="2643.5" stroke="#ccc" stroke-width="1.2"/>
<ellipse cx="1027.2" cy="2286.9" rx="124" ry="131" fill="none" stroke="#fff" stroke-width="3"/>
<text x="1036.13" y="2370.3" font-size="35">ESF</text>
<text x="177.42" y="2051.1" font-size="36.5">19:15 LT</text>
<text x="549.22" y="2051.1" font-size="36.5">19:20 LT</text>
<text x="908.52" y="2052.2" font-size="36.5">19:25 LT</text>
<text x="49.42" y="2069" font-size="36">1000</text>
<text x="69.44" y="2188.2" font-size="36">800</text>
<text x="69.44" y="2307.4" font-size="36">600</text>
<text x="69.44" y="2426.6" font-size="36">400</text>
<text x="69.44" y="2545.8" font-size="36">200</text>
<text transform="translate(38.8,2517.16) rotate(-90)" font-size="35.8">Virtual height (km)</text>
<text x="144.66" y="2686.4" font-size="36">1</text>
<text x="265.96" y="2686.4" font-size="36">5</text>
<text x="403.66" y="2686.4" font-size="36">10</text>
<text x="517.16" y="2686.4" font-size="36">1</text>
<text x="638.16" y="2686.4" font-size="36">5</text>
<text x="776.36" y="2686.4" font-size="36">10</text>
<text x="878.06" y="2686.4" font-size="36">1</text>
<text x="999.76" y="2686.4" font-size="36">5</text>
<text x="1137.66" y="2686.4" font-size="36">10</text>
<text x="561.36" y="2732" font-size="35.8">Frequency (MHz)</text>
</svg></body></html>
